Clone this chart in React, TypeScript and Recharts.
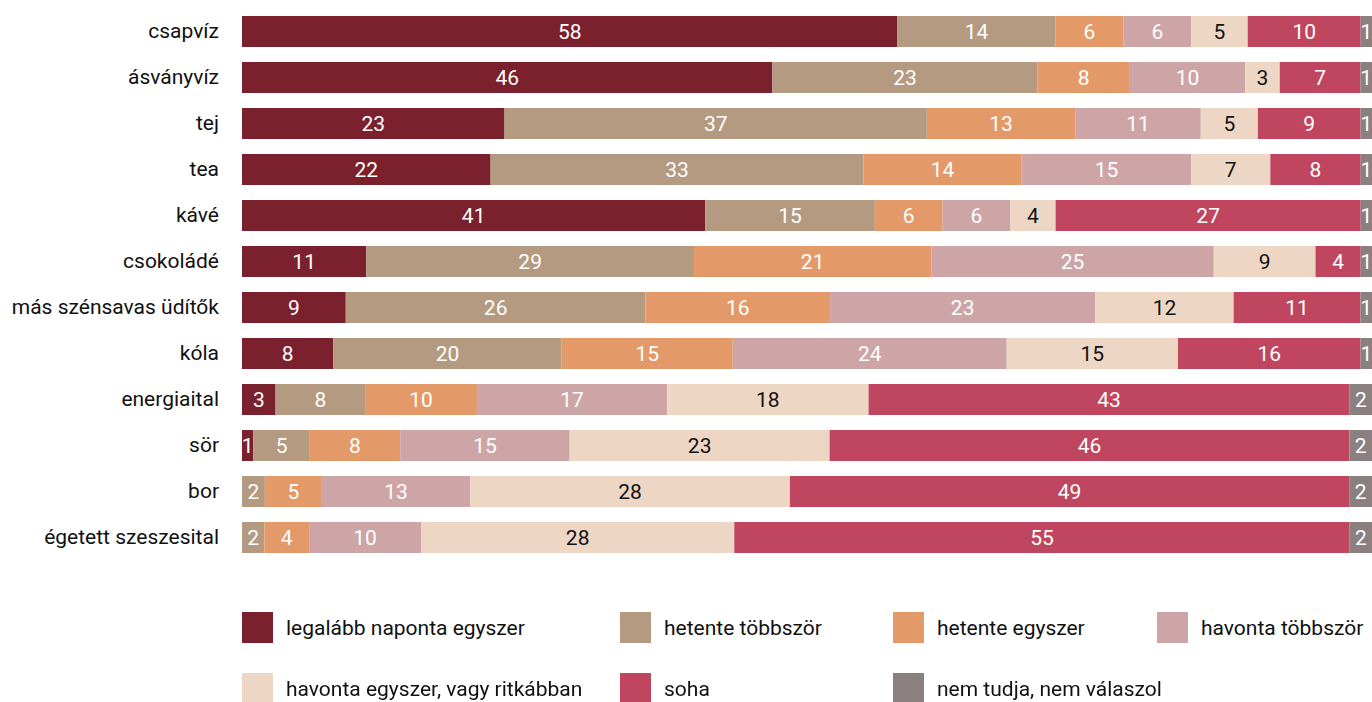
import React from 'react'
import { Bar, BarChart, XAxis, YAxis, Legend, LabelList } from 'recharts'

const categories = [
  'csapvíz',
  'ásványvíz',
  'tej',
  'tea',
  'kávé',
  'csokoládé',
  'más szénsavas üdítők',
  'kóla',
  'energiaital',
  'sör',
  'bor',
  'égetett szeszesital',
]

const daily = [58, 46, 23, 22, 41, 11, 9, 8, 3, 1, 0, 0]
const weeklyMulti = [14, 23, 37, 33, 15, 29, 26, 20, 8, 5, 2, 2]
const weeklyOnce = [6, 8, 13, 14, 6, 21, 16, 15, 10, 8, 5, 4]
const monthlyMulti = [6, 10, 11, 15, 6, 25, 23, 24, 17, 15, 13, 10]
const monthlyOnce = [5, 3, 5, 7, 4, 9, 12, 15, 18, 23, 28, 28]
const never = [10, 7, 9, 8, 27, 4, 11, 16, 43, 46, 49, 55]
const dontKnow = [1, 1, 1, 1, 1, 1, 1, 1, 2, 2, 2, 2]

const seriesNames = [
  'legalább naponta egyszer',
  'hetente többször',
  'hetente egyszer',
  'havonta többször',
  'havonta egyszer, vagy ritkábban',
  'soha',
  'nem tudja, nem válaszol',
]

const FONT = 'Roboto, "Liberation Sans", sans-serif'
const textStyle = { fontFamily: FONT }

const series = [
  { key: 's0', name: seriesNames[0], values: daily, color: '#7b212d', text: '#ffffff' },
  { key: 's1', name: seriesNames[1], values: weeklyMulti, color: '#b39a80', text: '#ffffff' },
  { key: 's2', name: seriesNames[2], values: weeklyOnce, color: '#e39a68', text: '#ffffff' },
  { key: 's3', name: seriesNames[3], values: monthlyMulti, color: '#cda5a7', text: '#ffffff' },
  { key: 's4', name: seriesNames[4], values: monthlyOnce, color: '#eed6c5', text: '#111111' },
  { key: 's5', name: seriesNames[5], values: never, color: '#c04660', text: '#ffffff' },
  { key: 's6', name: seriesNames[6], values: dontKnow, color: '#8b8080', text: '#ffffff' },
]

const data = categories.map((name, i) => {
  const row: Record<string, string | number> = { name }
  series.forEach((s) => {
    row[s.key] = s.values[i]
  })
  return row
})

// legend is laid out in two rows with uneven columns, like the original
const legendCols = [242, 620, 893, 1157]

const renderLegend = () => (
  <div style={{ position: 'relative', width: 1372, height: 142, ...textStyle }}>
    {series.map((s, i) => {
      const col = i % 4
      const row = Math.floor(i / 4)
      return (
        <div
          key={s.key}
          style={{
            position: 'absolute',
            left: legendCols[col],
            top: 52 + row * 61,
            display: 'flex',
            alignItems: 'center',
            height: 31,
          }}
        >
          <div style={{ width: 31, height: 31, background: s.color }} />
          <span style={{ marginLeft: 13, fontSize: 21, color: '#111', whiteSpace: 'nowrap' }}>{s.name}</span>
        </div>
      )
    })}
  </div>
)

export default function App() {
  return (
    <div style={{ position: 'fixed', left: 0, top: 0, width: 1372, height: 702, background: '#fff', ...textStyle }}>
      <BarChart
        width={1372}
        height={702}
        data={data}
        layout="vertical"
        stackOffset="expand"
        barSize={31}
        margin={{ top: 8, right: 0, bottom: 0, left: 0 }}
      >
        <XAxis type="number" hide domain={[0, 1]} />
        <YAxis
          type="category"
          dataKey="name"
          width={242}
          tickLine={false}
          axisLine={false}
          tickMargin={17}
          tick={{ fontSize: 21, fill: '#111', ...textStyle }}
          interval={0}
        />
        <Legend verticalAlign="bottom" height={142} content={renderLegend} wrapperStyle={{ left: 0 }} />
        {series.map((s) => (
          <Bar key={s.key} dataKey={s.key} name={s.name} stackId="a" fill={s.color} isAnimationActive={false}>
            <LabelList
              dataKey={s.key}
              position="center"
              fill={s.text}
              style={{ fontSize: 21, ...textStyle }}
              formatter={(v: any) => (v ? v : '')}
            />
          </Bar>
        ))}
      </BarChart>
    </div>
  )
}
